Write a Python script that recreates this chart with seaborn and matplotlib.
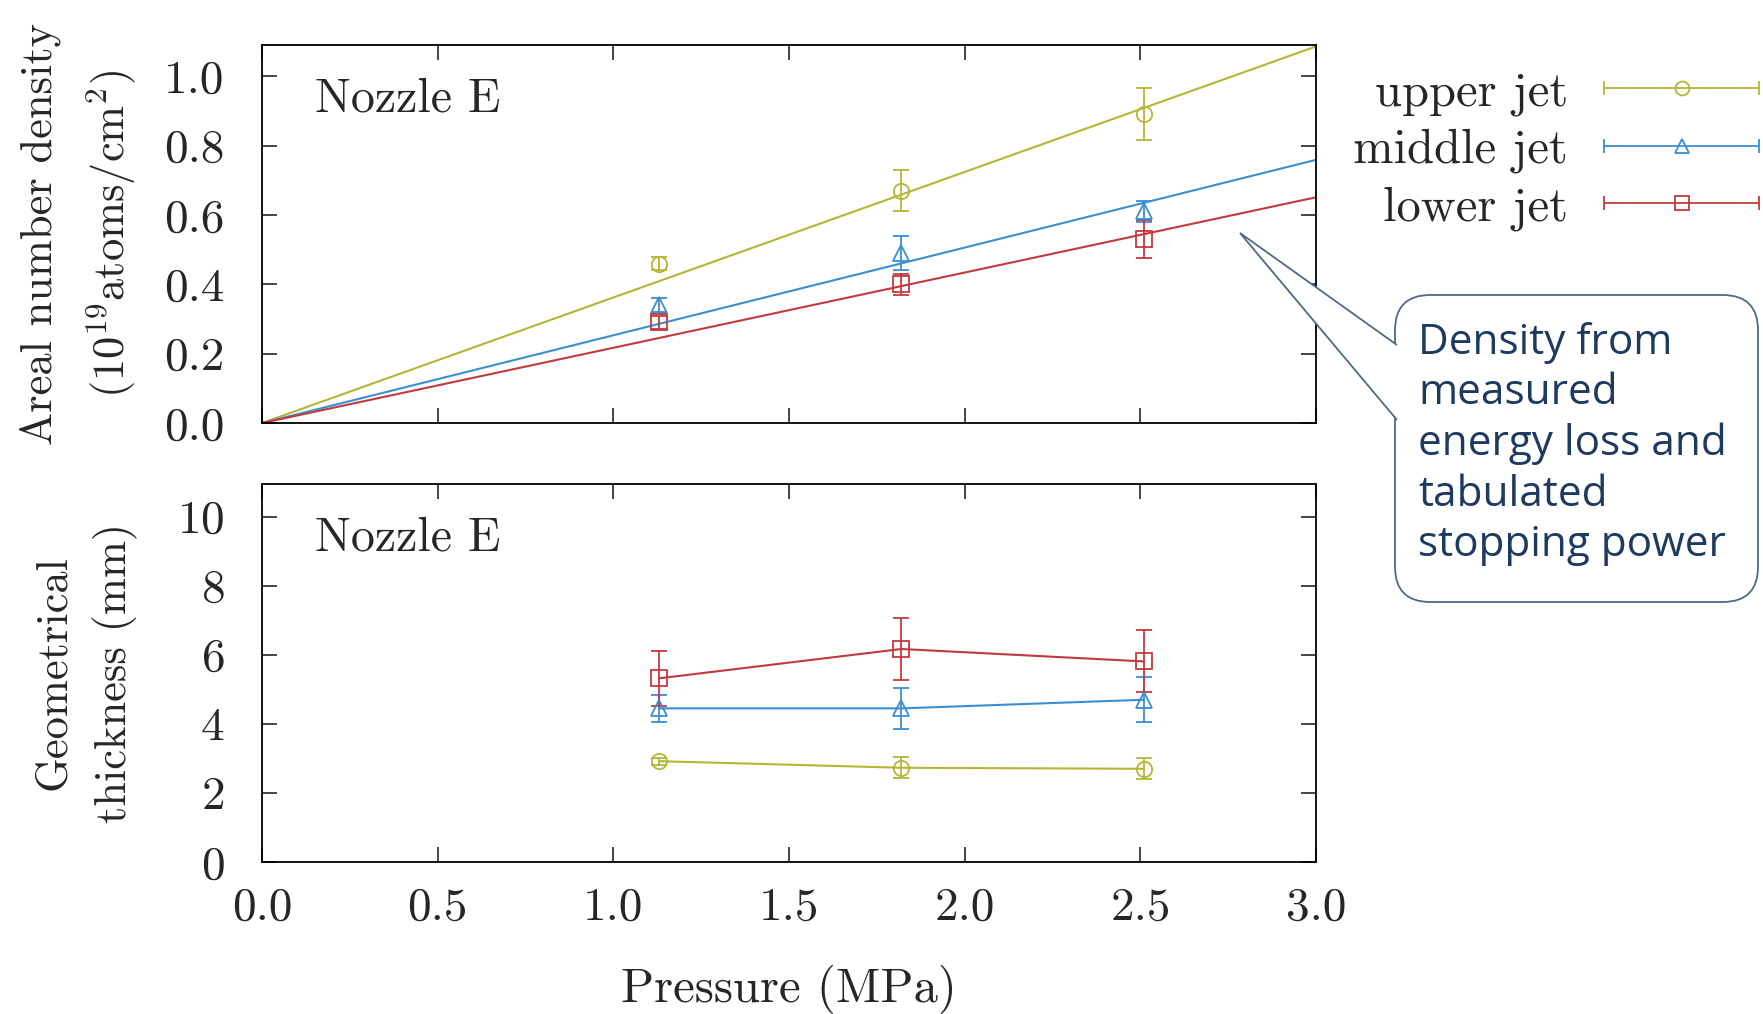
import numpy as np
import pandas as pd
import matplotlib
matplotlib.use("Agg")
import matplotlib.pyplot as plt
import seaborn as sns
from matplotlib.lines import Line2D
from matplotlib.patches import FancyBboxPatch, Polygon
from matplotlib.legend_handler import HandlerTuple, HandlerLine2D

# data
jets = ["upper jet", "middle jet", "lower jet"]
colors = ["#b5b536", "#3a8fd2", "#c23a3e"]
markers = ["o", "^", "s"]
pressure = [1.13, 1.82, 2.51]

# areal number density (1e19 atoms/cm2)
dens_upper = [0.46, 0.67, 0.89]
dens_middle = [0.34, 0.49, 0.61]
dens_lower = [0.29, 0.40, 0.53]
dens_err_upper = [0.02, 0.06, 0.075]
dens_err_middle = [0.02, 0.05, 0.03]
dens_err_lower = [0.02, 0.03, 0.055]
fit_slope = [0.362, 0.253, 0.217]
fit_x = [0.0, 3.0]

# geometrical thickness (mm)
thick_upper = [2.92, 2.73, 2.70]
thick_middle = [4.45, 4.45, 4.70]
thick_lower = [5.32, 6.17, 5.81]
thick_err_upper = [0.1, 0.3, 0.3]
thick_err_middle = [0.4, 0.6, 0.65]
thick_err_lower = [0.8, 0.9, 0.9]

dens = [dens_upper, dens_middle, dens_lower]
dens_err = [dens_err_upper, dens_err_middle, dens_err_lower]
thick = [thick_upper, thick_middle, thick_lower]
thick_err = [thick_err_upper, thick_err_middle, thick_err_lower]

sns.set_style("ticks")
plt.rcParams['font.family'] = ['cmr10', 'DejaVu Serif']
plt.rcParams['mathtext.fontset'] = 'cm'
plt.rcParams['axes.formatter.use_mathtext'] = True
plt.rcParams['font.size'] = 34

fig = plt.figure(figsize=(17.63, 10.14), dpi=100)
ax1 = fig.add_axes([0.1486, 0.5828, 0.5979, 0.3728])
ax2 = fig.add_axes([0.1486, 0.1499, 0.5979, 0.3728])

mkw = dict(markersize=11, mfc="none", mew=1.3, capsize=5.5, elinewidth=1.3, capthick=1.3, lw=0)

# top panel: fits through origin + measured points
for i in range(3):
    fit_df = pd.DataFrame({"x": fit_x, "y": [fit_slope[i] * v for v in fit_x]})
    sns.lineplot(data=fit_df, x="x", y="y", ax=ax1, color=colors[i], lw=1.5)
    ax1.errorbar(pressure, dens[i], yerr=dens_err[i], color=colors[i], marker=markers[i], **mkw)

# bottom panel
for i in range(3):
    df = pd.DataFrame({"x": pressure, "y": thick[i]})
    sns.lineplot(data=df, x="x", y="y", ax=ax2, color=colors[i], lw=1.5)
    ax2.errorbar(pressure, thick[i], yerr=thick_err[i], color=colors[i], marker=markers[i], **mkw)

ax1.set_xlim(0, 3.0)
ax1.set_ylim(0, 1.09)
ax1.set_yticks([0.0, 0.2, 0.4, 0.6, 0.8, 1.0])
ax1.set_yticklabels(["0.0", "0.2", "0.4", "0.6", "0.8", "1.0"])
ax1.set_xticks([0, 0.5, 1.0, 1.5, 2.0, 2.5, 3.0])
ax1.set_xticklabels([])
ax1.set_xlabel("")
ax1.set_ylabel("Areal number density\n(10$^{19}$atoms/cm$^2$)", linespacing=1.56, fontsize=32)

ax2.set_xlim(0, 3.0)
ax2.set_ylim(0, 10.95)
ax2.set_yticks([0, 2, 4, 6, 8, 10])
ax2.set_xticks([0, 0.5, 1.0, 1.5, 2.0, 2.5, 3.0])
ax2.set_xticklabels(["0.0", "0.5", "1.0", "1.5", "2.0", "2.5", "3.0"])
ax2.set_xlabel("Pressure (MPa)", labelpad=26, fontsize=35)
ax2.set_ylabel("Geometrical\nthickness (mm)", linespacing=1.56, fontsize=32)

for ax in (ax1, ax2):
    ax.tick_params(direction="in", length=11, width=1.2, top=True, right=True)
    ax.tick_params(axis="y", pad=27)
    ax.tick_params(axis="x", pad=18)
    ax.yaxis.set_label_coords(-0.118, 0.5)
    for s in ax.spines.values():
        s.set_linewidth(1.3)
        s.set_color("black")
    ax.text(0.05, 0.855, "Nozzle E", transform=ax.transAxes, ha="left", va="center", fontsize=34.5)

# legend with gnuplot-like horizontal bar handles
handles = []
hmap = {tuple: HandlerTuple(ndivide=1)}
for i in range(3):
    ln = Line2D([], [], color=colors[i], marker=markers[i], mfc="none", markersize=10, mew=1.3, lw=1.3)
    cap = Line2D([], [], color=colors[i], marker="|", markersize=10, mew=1.3, lw=0)
    hmap[cap] = HandlerLine2D(numpoints=2, marker_pad=0)
    handles.append((ln, cap))
fig.legend(handles, jets, handler_map=hmap, loc="upper right", bbox_to_anchor=(0.998, 0.93),
           frameon=False, markerfirst=False, numpoints=1, handlelength=3.2, fontsize=35,
           handletextpad=0.74, labelspacing=0.26, borderpad=0, borderaxespad=0)

# callout box
W, H = 1763.0, 1014.0
def fx(px):
    return px / W
def fy(py):
    return 1 - py / H

edge = "#4d6a88"
box = FancyBboxPatch((fx(1395), fy(602)), fx(1758) - fx(1395), fy(295) - fy(602),
                     boxstyle="round,pad=0,rounding_size=0.02", transform=fig.transFigure,
                     facecolor="white", edgecolor=edge, lw=1.3, mutation_aspect=W / H)
fig.patches.append(box)
wedge = Polygon([(fx(1397), fy(345)), (fx(1240), fy(233)), (fx(1397), fy(420))],
                closed=False, transform=fig.transFigure, facecolor="white", edgecolor=edge, lw=1.3)
fig.patches.append(wedge)
fig.text(fx(1418), fy(322), "Density from\nmeasured\nenergy loss and\ntabulated\nstopping power",
         family=["Open Sans", "DejaVu Sans"], fontsize=30.4, color="#1e3a60",
         ha="left", va="top", linespacing=1.26)

fig.savefig("out.png", dpi=100)
